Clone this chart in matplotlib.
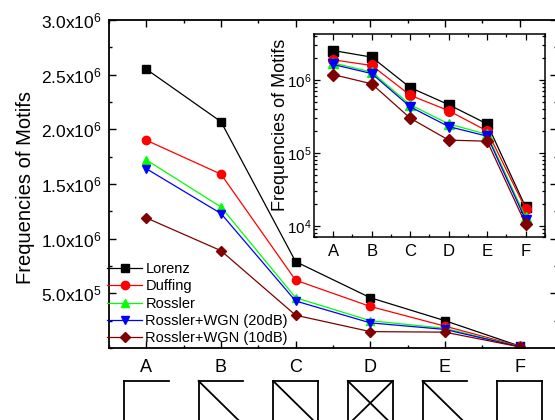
import matplotlib
matplotlib.use('Agg')
import matplotlib.pyplot as plt
from matplotlib.ticker import FixedLocator, MultipleLocator, LogLocator, NullFormatter
from matplotlib.transforms import blended_transform_factory

plt.rcParams['font.family'] = ['Liberation Sans', 'DejaVu Sans']
plt.rcParams['mathtext.fontset'] = 'custom'
plt.rcParams['mathtext.rm'] = 'Liberation Sans'
plt.rcParams['mathtext.it'] = 'Liberation Sans:italic'

# motif frequencies
motifs = ['A', 'B', 'C', 'D', 'E', 'F']
lorenz = [2.55e6, 2.07e6, 0.79e6, 0.46e6, 0.25e6, 1.8e4]
duffing = [1.90e6, 1.59e6, 0.62e6, 0.38e6, 0.20e6, 1.7e4]
rossler = [1.72e6, 1.29e6, 0.46e6, 0.25e6, 0.18e6, 1.3e4]
rossler_20db = [1.64e6, 1.23e6, 0.43e6, 0.23e6, 0.17e6, 1.2e4]
rossler_10db = [1.19e6, 0.89e6, 0.30e6, 0.15e6, 0.145e6, 1.05e4]

series_names = ['Lorenz', 'Duffing', 'Rossler', 'Rossler+WGN (20dB)', 'Rossler+WGN (10dB)']
series_values = [lorenz, duffing, rossler, rossler_20db, rossler_10db]
colors = ['black', '#FF0000', '#00FF00', '#0000FF', '#800000']
markers = ['s', 'o', '^', 'v', 'D']

# which edges each motif icon has: t=top, l=left, r=right, d=diagonal, x=anti-diagonal
icon_edges = {'A': 'tl', 'B': 'tld', 'C': 'tlrd', 'D': 'tlrdx', 'E': 'tld', 'F': 'tlr'}

y_ticks = [0.5e6, 1.0e6, 1.5e6, 2.0e6, 2.5e6, 3.0e6]
y_tick_labels = ['5.0x10$^5$', '1.0x10$^6$', '1.5x10$^6$', '2.0x10$^6$', '2.5x10$^6$', '3.0x10$^6$']
inset_ticks = [1e4, 1e5, 1e6]
inset_tick_labels = ['10$^4$', '10$^5$', '10$^6$']

x = list(range(len(motifs)))

fig = plt.figure(figsize=(5.55, 4.2), dpi=100)
ax = fig.add_axes([0.1964, 0.1714, 0.807, 0.781])

for name, vals, c, m in zip(series_names, series_values, colors, markers):
    ms = 5.5 if m in ('s', 'D') else 6
    ax.plot(x, vals, color=c, marker=m, markersize=ms, linewidth=0.9,
            markeredgecolor=c, label=name)

ax.set_xlim(-0.5, 5.5)
ax.set_ylim(0, 3.0e6)
ax.xaxis.set_major_locator(FixedLocator(x))
ax.set_xticklabels(motifs)
ax.xaxis.set_minor_locator(MultipleLocator(0.5))
ax.yaxis.set_major_locator(FixedLocator(y_ticks))
ax.set_yticklabels(y_tick_labels)
ax.yaxis.set_minor_locator(MultipleLocator(0.25e6))
ax.tick_params(which='both', direction='in', top=True, right=True, width=1.0)
ax.tick_params(which='major', length=5)
ax.tick_params(which='minor', length=2.5)
ax.tick_params(axis='y', labelsize=12.5, pad=5)
ax.tick_params(axis='x', labelsize=13, pad=8)
for sp in ax.spines.values():
    sp.set_linewidth(1.3)
ax.set_ylabel('Frequencies of Motifs', fontsize=14.5)
ax.yaxis.set_label_coords(-0.165, 0.49)

leg = ax.legend(loc='lower left', bbox_to_anchor=(-0.01, 0.0), frameon=False,
                fontsize=10.5, handlelength=2.4, handletextpad=0.2,
                labelspacing=0.22, borderaxespad=0.0, borderpad=0.2)

# motif icons under the tick labels
trans = blended_transform_factory(ax.transData, fig.transFigure)
hw = 0.3
top = 1 - 381 / 420
bot = 1 - 425 / 420
for i, mname in enumerate(motifs):
    edges = icon_edges[mname]
    segs = []
    if 't' in edges:
        segs.append(([i - hw, i + hw], [top, top]))
    if 'l' in edges:
        segs.append(([i - hw, i - hw], [top, bot]))
    if 'r' in edges:
        segs.append(([i + hw, i + hw], [top, bot]))
    if 'd' in edges:
        segs.append(([i - hw, i + hw], [top, bot]))
    if 'x' in edges:
        segs.append(([i + hw, i - hw], [top, bot]))
    for sx, sy in segs:
        ax.plot(sx, sy, color='black', linewidth=1.3, transform=trans, clip_on=False)

# inset with log scale
ins = fig.add_axes([0.5658, 0.4357, 0.416, 0.4833])
for name, vals, c, m in zip(series_names, series_values, colors, markers):
    ms = 6.5 if m in ('s', 'D') else 7
    ins.plot(x, vals, color=c, marker=m, markersize=ms, linewidth=0.9,
             markeredgecolor=c)
ins.set_yscale('log')
ins.set_xlim(-0.5, 5.5)
ins.set_ylim(7.0e3, 4.3e6)
ins.xaxis.set_major_locator(FixedLocator(x))
ins.set_xticklabels(motifs)
ins.xaxis.set_minor_locator(MultipleLocator(0.5))
ins.yaxis.set_major_locator(FixedLocator(inset_ticks))
ins.set_yticklabels(inset_tick_labels)
ins.yaxis.set_minor_locator(LogLocator(base=10, subs=range(2, 10)))
ins.yaxis.set_minor_formatter(NullFormatter())
ins.tick_params(which='both', direction='in', top=True, right=True, width=0.9)
ins.tick_params(which='major', length=4)
ins.tick_params(which='minor', length=2)
ins.tick_params(axis='y', labelsize=11, pad=2)
ins.tick_params(axis='x', labelsize=12, pad=5)
for sp in ins.spines.values():
    sp.set_linewidth(1.1)
ins.set_ylabel('Frequencies of Motifs', fontsize=13)
ins.yaxis.set_label_coords(-0.11, 0.55)

fig.savefig('out.png', dpi=100)
